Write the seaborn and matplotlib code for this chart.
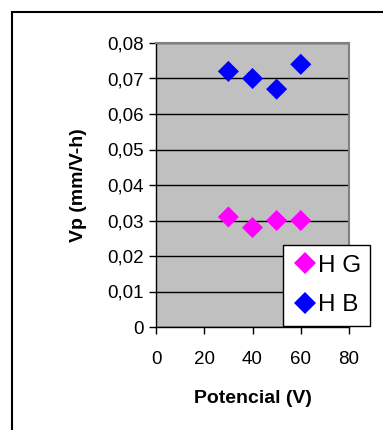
import pandas as pd
import matplotlib.pyplot as plt
import seaborn as sns
from matplotlib.patches import Rectangle

# Data
potencial = [30, 40, 50, 60]
vp_hg = [0.031, 0.028, 0.030, 0.030]
vp_hb = [0.072, 0.070, 0.067, 0.074]
series_names = ["H G", "H B"]
y_ticks = [0, 0.01, 0.02, 0.03, 0.04, 0.05, 0.06, 0.07, 0.08]
x_ticks = [0, 20, 40, 60, 80]

df = pd.DataFrame({
    "Potencial": potencial + potencial,
    "Vp": vp_hg + vp_hb,
    "serie": [series_names[0]] * len(vp_hg) + [series_names[1]] * len(vp_hb),
})

sns.set_style("white")
plt.rcParams['font.family'] = ['Liberation Sans', 'DejaVu Sans']
plt.rcParams['text.color'] = "black"
plt.rcParams['axes.labelcolor'] = "black"
plt.rcParams['xtick.color'] = "black"
plt.rcParams['ytick.color'] = "black"

W, H = 383, 430
fig = plt.figure(figsize=(W / 100, H / 100), dpi=100)
fig.patch.set_facecolor("white")

# outer chart frame (cut by the image edges on right and bottom)
fig.patches.append(Rectangle((12 / W, -0.1), 1.2, 1 - 12 / H + 0.1,
                             transform=fig.transFigure, fill=False,
                             edgecolor="black", linewidth=1.5))

ax = fig.add_axes([156 / W, 1 - 327 / H, (349 - 156) / W, (327 - 43) / H])
ax.set_facecolor("#C0C0C0")

sns.scatterplot(
    data=df, x="Potencial", y="Vp", hue="serie",
    palette={"H G": "#FF00FF", "H B": "#0000FF"},
    marker="D", s=115, linewidth=0, ax=ax,
)

ax.set_xlim(0, 80)
ax.set_ylim(0, 0.08)
ax.set_xticks(x_ticks)
ax.set_yticks(y_ticks)
ax.set_xticklabels([str(v) for v in x_ticks], fontsize=13.5)
ax.set_yticklabels([("%.2f" % v).replace(".", ",") if v else "0" for v in y_ticks],
                   fontsize=13.5)
ax.yaxis.grid(True, color="black", linewidth=1)
ax.set_axisbelow(True)
ax.tick_params(axis="both", direction="out", length=5, width=1, color="black",
               left=True, bottom=True, pad=4)
ax.tick_params(axis="x", pad=12)

for side in ["top", "right"]:
    ax.spines[side].set_color("#808080")
    ax.spines[side].set_linewidth(1.5)
for side in ["left", "bottom"]:
    ax.spines[side].set_color("black")
    ax.spines[side].set_linewidth(1)

ax.set_xlabel("Potencial (V)", fontsize=14, fontweight="bold", labelpad=16)
ax.set_ylabel("Vp (mm/V-h)", fontsize=14, fontweight="bold", labelpad=14)

leg = ax.legend(loc="lower left", bbox_to_anchor=((283 - 156) / (349 - 156), 0.003),
                frameon=True, fancybox=False, fontsize=17.5, handletextpad=0.02,
                borderpad=0.4, labelspacing=0.72, handlelength=1.0,
                borderaxespad=0, markerscale=1.05)
leg.get_frame().set_edgecolor("black")
leg.get_frame().set_linewidth(1)
leg.get_frame().set_facecolor("white")
leg.get_frame().set_alpha(1)

plt.savefig("out.png", dpi=100)
